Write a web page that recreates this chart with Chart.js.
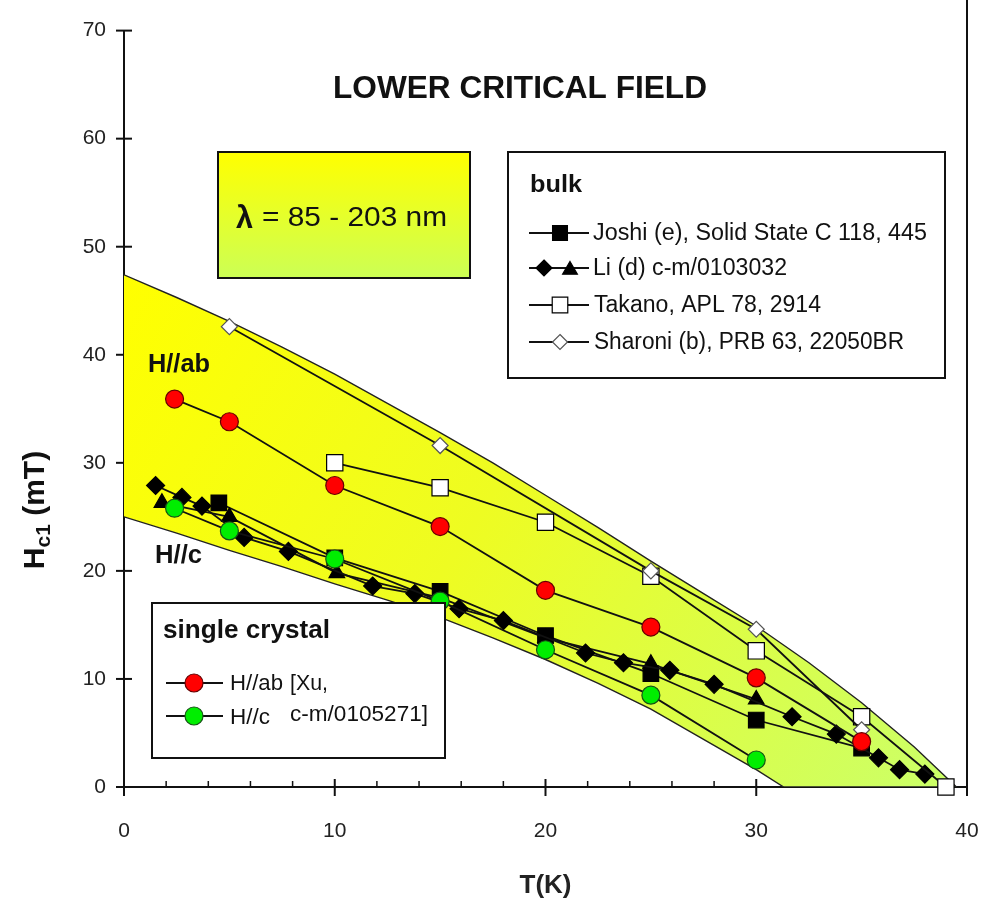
<!DOCTYPE html>
<html>
<head>
<meta charset="utf-8">
<script src="https://cdn.jsdelivr.net/npm/chart.js@4.4.0/dist/chart.umd.min.js"></script>
<style>
  html, body { margin: 0; padding: 0; background: #fff; }
</style>
</head>
<body>
<canvas id="grafico" width="987" height="924"></canvas>
<script>
// Valores (T em K, Hc1 em mT)
const xTicks = [0, 10, 20, 30, 40];
const yTicks = [0, 10, 20, 30, 40, 50, 60, 70];

const joshiT = [4.5, 10, 15, 20, 25, 30, 35];
const joshiH = [26.3, 21.2, 18.1, 14.0, 10.5, 6.2, 3.6];

const liDiamT = [1.5, 2.75, 3.7, 5.7, 7.8, 11.8, 13.8, 15.9, 18.0, 21.9, 23.7, 25.9, 28.0, 31.7, 33.8, 35.8, 36.8, 38.0];
const liDiamH = [27.9, 26.8, 26.0, 23.1, 21.8, 18.6, 17.9, 16.5, 15.4, 12.4, 11.5, 10.8, 9.5, 6.5, 4.9, 2.7, 1.6, 1.2];

const liTriT = [1.8, 5.0, 10.1, 15, 20, 25, 30];
const liTriH = [26.3, 25.0, 19.8, 17.5, 13.8, 11.4, 8.1];

const takanoT = [10, 15, 20, 25, 30, 35, 39];
const takanoH = [30.0, 27.7, 24.5, 19.5, 12.6, 6.5, 0];

const sharoniT = [5, 15, 25, 30, 35];
const sharoniH = [42.6, 31.6, 20.0, 14.6, 5.3];

const xuAbT = [2.4, 5, 10, 15, 20, 25, 30, 35];
const xuAbH = [35.9, 33.8, 27.9, 24.1, 18.2, 14.8, 10.1, 4.2];

const xuCT = [2.4, 5, 10, 15, 20, 25, 30];
const xuCH = [25.8, 23.7, 21.1, 17.2, 12.7, 8.5, 2.5];

// faixa amarela (borda superior e inferior)
const bandaSupT = [0, 2.5, 5, 7.5, 10, 12.5, 15, 17.5, 20, 22.5, 25, 27.5, 30, 32.5, 35, 37.5, 39.5];
const bandaSupH = [47.4, 45.3, 43.1, 40.7, 38.2, 35.5, 32.8, 30.0, 27.0, 24.0, 20.9, 17.9, 14.9, 11.5, 7.8, 3.7, 0];
const bandaInfT = [39.5, 31.3, 30, 27.5, 25, 22.5, 20, 17.5, 15, 12.5, 10, 7.5, 5, 2.5, 0];
const bandaInfH = [0, 0, 1.6, 4.4, 7.2, 9.6, 11.8, 13.8, 15.7, 17.3, 18.8, 20.4, 21.9, 23.5, 25.0];

function pontos(xs, ys) {
  return xs.map((x, i) => ({ x: x, y: ys[i] }));
}

const FONTE = "Arial, 'Liberation Sans', sans-serif";

function gradienteBanda(context) {
  const chart = context.chart;
  if (!chart.chartArea) return '#eeff22';
  const sx = chart.scales.x, sy = chart.scales.y;
  const g = chart.ctx.createLinearGradient(sx.getPixelForValue(0), sy.getPixelForValue(47), sx.getPixelForValue(38), sy.getPixelForValue(0));
  g.addColorStop(0, '#ffff00');
  g.addColorStop(0.45, '#eefc22');
  g.addColorStop(1, '#ccff66');
  return g;
}

function serie(data, estilo, raio, cor, borda, ordem) {
  return {
    data: data,
    showLine: true,
    borderColor: '#111',
    borderWidth: 1.8,
    pointStyle: estilo,
    pointRadius: raio,
    pointBackgroundColor: cor,
    pointBorderColor: borda,
    pointBorderWidth: 1.2,
    clip: false,
    order: ordem
  };
}

const datasets = [
  serie(pontos(xuCT, xuCH), 'circle', 9, '#00ee00', '#155515', 0),
  serie(pontos(xuAbT, xuAbH), 'circle', 9, '#ff0000', '#660000', 1),
  serie(pontos(sharoniT, sharoniH), 'rectRot', 8, '#ffffff', '#555', 2),
  serie(pontos(takanoT, takanoH), 'rect', 11.5, '#ffffff', '#000', 3),
  serie(pontos(liDiamT, liDiamH), 'rectRot', 9, '#000', '#000', 4),
  serie(pontos(liTriT, liTriH), 'triangle', 9, '#000', '#000', 5),
  serie(pontos(joshiT, joshiH), 'rect', 11, '#000', '#000', 6),
  {
    data: pontos(bandaSupT, bandaSupH).concat(pontos(bandaInfT, bandaInfH)),
    showLine: true,
    pointRadius: 0,
    borderColor: '#222',
    borderWidth: 1.4,
    fill: 'shape',
    backgroundColor: gradienteBanda,
    order: 10
  }
];

function desenhaMarcador(ctx, estilo, x, y, r, cor, borda) {
  ctx.save();
  ctx.fillStyle = cor;
  ctx.strokeStyle = borda;
  ctx.lineWidth = 1.2;
  ctx.beginPath();
  if (estilo === 'circle') {
    ctx.arc(x, y, r, 0, Math.PI * 2);
  } else if (estilo === 'rect') {
    const s = r * Math.SQRT1_2;
    ctx.rect(x - s, y - s, 2 * s, 2 * s);
  } else if (estilo === 'rectRot') {
    ctx.moveTo(x, y - r); ctx.lineTo(x + r, y); ctx.lineTo(x, y + r); ctx.lineTo(x - r, y); ctx.closePath();
  } else if (estilo === 'triangle') {
    ctx.moveTo(x, y - r); ctx.lineTo(x + r * 0.87, y + r * 0.5); ctx.lineTo(x - r * 0.87, y + r * 0.5); ctx.closePath();
  }
  ctx.fill();
  ctx.stroke();
  ctx.restore();
}

function linhaLegenda(ctx, x1, x2, y) {
  ctx.beginPath();
  ctx.moveTo(x1, y);
  ctx.lineTo(x2, y);
  ctx.strokeStyle = '#111';
  ctx.lineWidth = 1.8;
  ctx.stroke();
}

// escreve o texto esticado até a largura pedida
function texto(ctx, str, x, y, fonte, largura) {
  ctx.save();
  ctx.font = fonte;
  ctx.textAlign = 'left';
  ctx.textBaseline = 'middle';
  const w = ctx.measureText(str).width;
  ctx.translate(x, y);
  if (largura) ctx.scale(largura / w, 1);
  ctx.fillText(str, 0, 0);
  ctx.restore();
}

const decoracao = {
  id: 'decoracao',
  beforeDatasetsDraw(chart) {
    const ctx = chart.ctx;
    const sx = chart.scales.x, sy = chart.scales.y;
    const a = chart.chartArea;
    ctx.save();
    ctx.strokeStyle = '#111';
    ctx.lineWidth = 2;
    ctx.beginPath();
    ctx.moveTo(a.right, 0);
    ctx.lineTo(a.right, a.bottom + 3);
    ctx.stroke();
    yTicks.forEach(v => {
      const py = sy.getPixelForValue(v);
      ctx.beginPath();
      ctx.moveTo(a.left - 8, py);
      ctx.lineTo(a.left + 8, py);
      ctx.stroke();
    });
    xTicks.forEach(v => {
      const px = sx.getPixelForValue(v);
      ctx.beginPath();
      ctx.moveTo(px, a.bottom - 8);
      ctx.lineTo(px, a.bottom + 9);
      ctx.stroke();
    });
    ctx.lineWidth = 1.5;
    for (let v = 2; v < 40; v += 2) {
      if (v % 10 === 0) continue;
      const px = sx.getPixelForValue(v);
      ctx.beginPath();
      ctx.moveTo(px, a.bottom);
      ctx.lineTo(px, a.bottom - 6);
      ctx.stroke();
    }
    // rótulos do eixo x
    ctx.fillStyle = '#222';
    ctx.font = '21px ' + FONTE;
    ctx.textAlign = 'center';
    ctx.textBaseline = 'middle';
    xTicks.forEach(v => ctx.fillText(String(v), sx.getPixelForValue(v), 831));
    ctx.restore();
  },
  afterDraw(chart) {
    const ctx = chart.ctx;
    ctx.save();
    ctx.fillStyle = '#111';

    // título
    texto(ctx, 'LOWER CRITICAL FIELD', 333, 89, 'bold 31px ' + FONTE, 374);

    // caixa lambda
    const g = ctx.createLinearGradient(0, 152, 0, 278);
    g.addColorStop(0, '#ffff00');
    g.addColorStop(1, '#ccff55');
    ctx.fillStyle = g;
    ctx.fillRect(218, 152, 252, 126);
    ctx.strokeStyle = '#111';
    ctx.lineWidth = 2;
    ctx.strokeRect(218, 152, 252, 126);
    ctx.fillStyle = '#111';
    texto(ctx, 'λ', 236, 219, 'bold 31px ' + FONTE, 17);
    texto(ctx, '= 85 - 203 nm', 262, 219, '27px ' + FONTE, 185);

    // legenda bulk
    ctx.fillStyle = '#fff';
    ctx.fillRect(508, 152, 437, 226);
    ctx.lineWidth = 2;
    ctx.strokeRect(508, 152, 437, 226);
    ctx.fillStyle = '#111';
    texto(ctx, 'bulk', 530, 185, 'bold 24px ' + FONTE, 52);
    const linhas = [233, 268, 305, 342];
    linhas.forEach(y => linhaLegenda(ctx, 529, 589, y));
    desenhaMarcador(ctx, 'rect', 560, 233, 10.5, '#000', '#000');
    desenhaMarcador(ctx, 'rectRot', 544, 268, 8, '#000', '#000');
    desenhaMarcador(ctx, 'triangle', 570, 270, 8.5, '#000', '#000');
    desenhaMarcador(ctx, 'rect', 560, 305, 11, '#fff', '#000');
    desenhaMarcador(ctx, 'rectRot', 560, 342, 7.5, '#fff', '#555');
    ctx.fillStyle = '#111';
    texto(ctx, 'Joshi (e), Solid State C 118, 445', 593, 234, '23px ' + FONTE, 334);
    texto(ctx, 'Li (d) c-m/0103032', 593, 269, '23px ' + FONTE, 194);
    texto(ctx, 'Takano, APL 78, 2914', 594, 306, '23px ' + FONTE, 227);
    texto(ctx, 'Sharoni (b), PRB 63, 22050BR', 594, 343, '23px ' + FONTE, 310);

    // legenda single crystal
    ctx.fillStyle = '#fff';
    ctx.fillRect(152, 603, 293, 155);
    ctx.lineWidth = 2;
    ctx.strokeRect(152, 603, 293, 155);
    ctx.fillStyle = '#111';
    texto(ctx, 'single crystal', 163, 631, 'bold 25px ' + FONTE, 167);
    linhaLegenda(ctx, 166, 223, 683);
    linhaLegenda(ctx, 166, 223, 716);
    desenhaMarcador(ctx, 'circle', 194, 683, 9, '#ff0000', '#660000');
    desenhaMarcador(ctx, 'circle', 194, 716, 9, '#00ee00', '#155515');
    ctx.fillStyle = '#111';
    texto(ctx, 'H//ab', 230, 684, '22px ' + FONTE, 53);
    texto(ctx, '[Xu,', 290, 684, '22px ' + FONTE, 38);
    texto(ctx, 'H//c', 230, 718, '22px ' + FONTE, 40);
    texto(ctx, 'c-m/0105271]', 290, 715, '22px ' + FONTE, 138);

    // rótulos H//ab e H//c
    texto(ctx, 'H//ab', 148, 365, 'bold 25px ' + FONTE, 62);
    texto(ctx, 'H//c', 155, 556, 'bold 25px ' + FONTE, 47);

    // título do eixo y com subscrito
    ctx.translate(36, 510);
    ctx.rotate(-Math.PI / 2);
    const fH = 'bold 30px ' + FONTE, fS = 'bold 21px ' + FONTE;
    ctx.font = fH; const wH = ctx.measureText('H').width; const wR = ctx.measureText(' (mT)').width;
    ctx.font = fS; const wS = ctx.measureText('c1').width;
    const x0 = -(wH + wS + wR) / 2;
    ctx.textAlign = 'left';
    ctx.textBaseline = 'middle';
    ctx.font = fH; ctx.fillText('H', x0, 0);
    ctx.font = fS; ctx.fillText('c1', x0 + wH, 8);
    ctx.font = fH; ctx.fillText(' (mT)', x0 + wH + wS, 0);
    ctx.restore();
  }
};

new Chart(document.getElementById('grafico').getContext('2d'), {
  type: 'scatter',
  data: { datasets: datasets },
  options: {
    responsive: false,
    animation: false,
    events: [],
    layout: { padding: { left: 0, right: 20, top: 18, bottom: 0 } },
    plugins: { legend: { display: false }, tooltip: { enabled: false } },
    elements: { line: { tension: 0 } },
    scales: {
      x: {
        type: 'linear', min: 0, max: 40,
        afterFit: s => { s.height = 137; },
        afterBuildTicks: s => { s.ticks = xTicks.map(v => ({ value: v })); },
        ticks: { display: false },
        grid: { display: false, drawTicks: false },
        border: { display: true, color: '#111', width: 2 },
        title: { display: true, text: 'T(K)', color: '#222', font: { family: FONTE, size: 26, weight: 'bold' }, padding: { top: 0, bottom: 23 } }
      },
      y: {
        type: 'linear', min: 0, max: 70,
        afterFit: s => { s.width = 124; },
        afterBuildTicks: s => { s.ticks = yTicks.map(v => ({ value: v })); },
        ticks: { padding: 18, color: '#222', font: { family: FONTE, size: 21 } },
        grid: { display: false, drawTicks: false },
        border: { display: true, color: '#111', width: 2 }
      }
    }
  },
  plugins: [decoracao]
});
</script>
</body>
</html>
